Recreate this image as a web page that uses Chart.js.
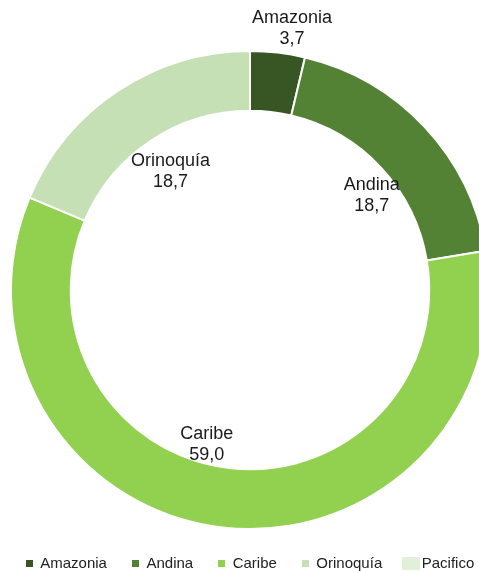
<!DOCTYPE html>
<html>
<head>
<meta charset="utf-8">
<script src="https://cdn.jsdelivr.net/npm/chart.js@4/dist/chart.umd.min.js"></script>
<style>
html,body{margin:0;padding:0;overflow:hidden;background:#fff;width:479px;height:571px;}
#wrap{width:540px;height:571px;margin-left:-20px;}
</style>
</head>
<body>
<div id="wrap"><canvas id="c" width="540" height="571"></canvas></div>
<script>
const categories = ['Amazonia', 'Andina', 'Caribe', 'Orinoquía', 'Pacifico'];
const values = [3.7, 18.7, 59.0, 18.7, 0];
const valueLabels = ['3,7', '18,7', '59,0', '18,7', ''];
const colors = ['#375623', '#548235', '#92D050', '#C5E0B4', '#E2F0D9'];

// label placement: [radius factor of outer radius, angle shift in degrees]
const labelPlacement = [[1.107, 2.5], [0.645, 5.3], [0.672, 9.0], [0.597, -0.2], null];
const legendMarker = [[7, 7], [7, 7], [7, 7], [7, 7], [18, 13]];

function markerImage(color, w, h) {
  const cv = document.createElement('canvas');
  cv.width = w; cv.height = h;
  const cx = cv.getContext('2d');
  cx.fillStyle = color;
  cx.fillRect(0, 0, w, h);
  return cv;
}

const sliceLabels = {
  id: 'sliceLabels',
  afterDatasetsDraw(chart) {
    const ctx = chart.ctx;
    const meta = chart.getDatasetMeta(0);
    ctx.save();
    ctx.font = '18px "Liberation Sans", Arial, sans-serif';
    ctx.fillStyle = '#1a1a1a';
    ctx.textAlign = 'center';
    ctx.textBaseline = 'middle';
    meta.data.forEach((arc, i) => {
      const p = labelPlacement[i];
      if (!p) return;
      const mid = (arc.startAngle + arc.endAngle) / 2 + p[1] * Math.PI / 180;
      const r = arc.outerRadius * p[0];
      const x = arc.x + Math.cos(mid) * r;
      const y = arc.y + Math.sin(mid) * r;
      ctx.fillText(categories[i], x, y - 10.5);
      ctx.fillText(valueLabels[i], x, y + 10.5);
    });
    ctx.restore();
  }
};

new Chart(document.getElementById('c'), {
  type: 'doughnut',
  data: {
    labels: categories,
    datasets: [{
      data: values,
      backgroundColor: colors,
      borderColor: '#ffffff',
      borderWidth: 2
    }]
  },
  options: {
    responsive: false,
    animation: false,
    radius: 239,
    cutout: '75%',
    layout: { padding: { top: 49, bottom: -10, left: 0, right: 0 } },
    plugins: {
      tooltip: { enabled: false },
      legend: {
        position: 'bottom',
        labels: {
          usePointStyle: true,
          boxWidth: 7,
          boxHeight: 7,
          padding: 25,
          color: '#222',
          font: { family: '"Liberation Sans", Arial, sans-serif', size: 15 },
          generateLabels(chart) {
            const base = Chart.overrides.doughnut.plugins.legend.labels.generateLabels(chart);
            return base.map((it, i) => {
              it.pointStyle = markerImage(colors[i], legendMarker[i][0], legendMarker[i][1]);
              it.lineWidth = 0;
              return it;
            });
          }
        }
      }
    }
  },
  plugins: [sliceLabels]
});
</script>
</body>
</html>
